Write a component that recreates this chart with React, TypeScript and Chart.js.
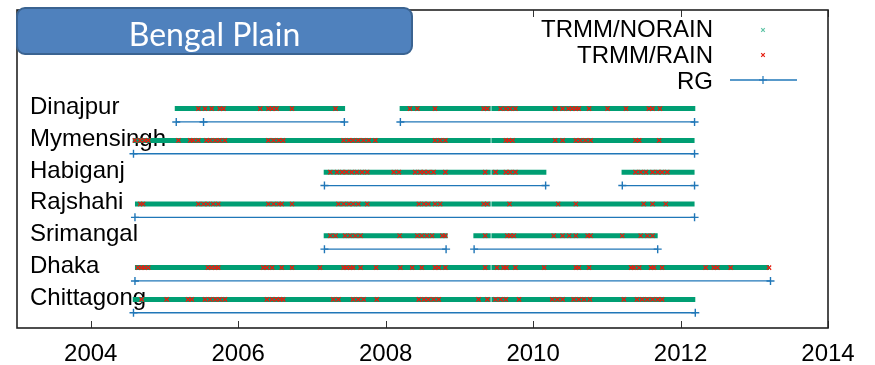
import React, { useEffect, useRef } from "react";
import { Chart, registerables } from "chart.js";

Chart.register(...registerables);

// ---------------- data ----------------
const TITLE = "Bengal Plain";
const STATIONS = ["Dinajpur", "Mymensingh", "Habiganj", "Rajshahi", "Srimangal", "Dhaka", "Chittagong"];
const STATION_ROWS = [3, 4, 5, 6, 7, 8, 9];

const TICK_YEARS = [2004, 2006, 2008, 2010, 2012, 2014];
const TICK_LABELS = ["2004", "2006", "2008", "2010", "2012", "2014"];
const X_MIN = 2003;
const X_MAX = 2014;

const LEGEND_LABELS = ["TRMM/NORAIN", "TRMM/RAIN", "RG"];

// TRMM coverage segments [start, end] (decimal years)
const DINAJPUR_TRMM = [[2005.14, 2007.45], [2008.19, 2009.425], [2009.435, 2012.2]];
const MYMENSINGH_TRMM = [[2004.57, 2009.425], [2009.435, 2012.19]];
const HABIGANJ_TRMM = [[2007.16, 2009.425], [2009.435, 2010.18], [2011.2, 2012.19]];
const RAJSHAHI_TRMM = [[2004.6, 2009.425], [2009.435, 2012.19]];
const SRIMANGAL_TRMM = [[2007.16, 2008.84], [2009.19, 2009.425], [2009.435, 2011.69]];
const DHAKA_TRMM = [[2004.6, 2009.425], [2009.435, 2013.2]];
const CHITTAGONG_TRMM = [[2004.57, 2009.425], [2009.435, 2012.2]];

// TRMM rain days (decimal years)
const DINAJPUR_RAIN = [2005.46, 2005.55, 2005.64, 2005.75, 2005.8, 2006.3, 2006.41, 2006.46, 2006.52, 2006.73, 2007.32,
  2008.33, 2008.43, 2008.67, 2009.33, 2009.38, 2009.56, 2009.63, 2009.69, 2009.76, 2010.3, 2010.4, 2010.48, 2010.53,
  2010.58, 2010.62, 2010.76, 2011.01, 2011.26, 2011.57, 2011.62, 2011.72];
const MYMENSINGH_RAIN = [2004.6, 2004.67, 2004.73, 2004.78, 2005.19, 2005.35, 2005.39, 2005.46, 2005.57, 2005.62, 2005.69,
  2005.75, 2005.82, 2006.41, 2006.48, 2006.55, 2006.61, 2007.43, 2007.5, 2007.56, 2007.63, 2007.7, 2007.77, 2007.86,
  2008.67, 2008.74, 2008.81, 2009.63, 2009.67, 2009.72, 2010.3, 2010.4, 2010.58, 2010.64, 2010.71, 2010.78, 2011.39,
  2011.44, 2011.71];
const HABIGANJ_RAIN = [2007.25, 2007.34, 2007.41, 2007.47, 2007.54, 2007.61, 2007.68, 2007.75, 2008.11, 2008.18, 2008.4,
  2008.47, 2008.52, 2008.58, 2008.65, 2008.81, 2009.35, 2009.49, 2009.63, 2009.69, 2009.76, 2011.39, 2011.46, 2011.53,
  2011.62, 2011.69, 2011.75, 2011.82];
const RAJSHAHI_RAIN = [2004.67, 2004.71, 2005.46, 2005.53, 2005.59, 2005.66, 2005.73, 2006.41, 2006.48, 2006.55, 2006.59,
  2006.73, 2007.36, 2007.43, 2007.5, 2007.56, 2007.63, 2007.75, 2008.45, 2008.52, 2008.58, 2008.67, 2008.74, 2009.33,
  2009.38, 2009.68, 2010.34, 2010.58, 2011.5, 2011.62, 2011.8];
const SRIMANGAL_RAIN = [2007.25, 2007.32, 2007.45, 2007.52, 2007.59, 2007.66, 2008.19, 2008.43, 2008.49, 2008.56, 2008.63,
  2008.77, 2008.81, 2009.35, 2009.65, 2009.69, 2009.74, 2010.28, 2010.4, 2010.49, 2010.58, 2010.74, 2010.78, 2011.21,
  2011.46, 2011.55, 2011.62];
const DHAKA_RAIN = [2004.64, 2004.69, 2004.73, 2004.78, 2005.59, 2005.64, 2005.69, 2005.73, 2006.34, 2006.39, 2006.46,
  2006.59, 2006.73, 2007.11, 2007.43, 2007.47, 2007.52, 2007.56, 2007.66, 2007.87, 2008.2, 2008.36, 2008.49, 2008.67,
  2008.72, 2008.81, 2009.35, 2009.51, 2009.6, 2009.64, 2009.76, 2010.15, 2010.58, 2010.62, 2010.76, 2011.33, 2011.37,
  2011.44, 2011.6, 2011.64, 2011.75, 2012.34, 2012.45, 2012.5, 2012.68, 2013.2];
const CHITTAGONG_RAIN = [2004.69, 2005.03, 2005.32, 2005.37, 2005.55, 2005.62, 2005.69, 2005.75, 2005.82, 2006.39, 2006.46,
  2006.52, 2006.57, 2006.61, 2007.29, 2007.36, 2007.56, 2007.63, 2007.7, 2007.88, 2008.45, 2008.52, 2008.58, 2008.65,
  2008.72, 2009.26, 2009.38, 2009.49, 2009.56, 2009.63, 2009.81, 2010.26, 2010.33, 2010.4, 2010.55, 2010.62, 2010.69,
  2010.77, 2011.23, 2011.41, 2011.48, 2011.55, 2011.62, 2011.69, 2011.75];

// Rain-gauge records: each segment lists its marker dates (decimal years)
const DINAJPUR_RG = [[2005.16, 2005.53, 2007.44], [2008.2, 2012.19]];
const MYMENSINGH_RG = [[2004.58, 2012.19]];
const HABIGANJ_RG = [[2007.17, 2010.17], [2011.21, 2012.19]];
const RAJSHAHI_RG = [[2004.6, 2012.19]];
const SRIMANGAL_RG = [[2007.17, 2008.82], [2009.2, 2011.69]];
const DHAKA_RG = [[2004.6, 2013.22]];
const CHITTAGONG_RG = [[2004.58, 2012.2]];

const TRMM_BY_STATION = [DINAJPUR_TRMM, MYMENSINGH_TRMM, HABIGANJ_TRMM, RAJSHAHI_TRMM, SRIMANGAL_TRMM, DHAKA_TRMM, CHITTAGONG_TRMM];
const RAIN_BY_STATION = [DINAJPUR_RAIN, MYMENSINGH_RAIN, HABIGANJ_RAIN, RAJSHAHI_RAIN, SRIMANGAL_RAIN, DHAKA_RAIN, CHITTAGONG_RAIN];
const RG_BY_STATION = [DINAJPUR_RG, MYMENSINGH_RG, HABIGANJ_RG, RAJSHAHI_RG, SRIMANGAL_RG, DHAKA_RG, CHITTAGONG_RG];

// ---------------- styles ----------------
const GREEN = "#009e73";
const RED = "#e51e10";
const BLUE = "#2077b8";
const FONT = "'Liberation Sans', Arial, Helvetica, sans-serif";
const TRMM_OFFSET = 0.1;
const RG_OFFSET = 0.52;

function buildDatasets() {
  const ds: any[] = [];
  STATIONS.forEach((name, i) => {
    const row = STATION_ROWS[i];
    const trmm: any[] = [];
    TRMM_BY_STATION[i].forEach(([a, b]) => {
      trmm.push({ x: a, y: row + TRMM_OFFSET }, { x: b, y: row + TRMM_OFFSET }, { x: b, y: null });
    });
    ds.push({
      label: name + " TRMM/NORAIN",
      data: trmm,
      showLine: true,
      borderColor: GREEN,
      backgroundColor: GREEN,
      borderWidth: 5,
      borderCapStyle: "butt",
      pointRadius: 0,
      spanGaps: false,
      order: 3,
    });
    ds.push({
      label: name + " TRMM/RAIN",
      data: RAIN_BY_STATION[i].map((x) => ({ x, y: row + TRMM_OFFSET })),
      showLine: false,
      pointStyle: "crossRot",
      pointRadius: 3,
      borderColor: RED,
      backgroundColor: RED,
      pointBorderWidth: 1.3,
      order: 1,
    });
    const rg: any[] = [];
    RG_BY_STATION[i].forEach((seg) => {
      seg.forEach((x) => rg.push({ x, y: row + RG_OFFSET }));
      rg.push({ x: seg[seg.length - 1], y: null });
    });
    ds.push({
      label: name + " RG",
      data: rg,
      showLine: true,
      borderColor: BLUE,
      backgroundColor: BLUE,
      borderWidth: 1.3,
      pointStyle: "cross",
      pointRadius: 4,
      pointBorderWidth: 1.4,
      spanGaps: false,
      order: 2,
    });
  });
  return ds;
}

const framePlugin = {
  id: "framePlugin",
  beforeDatasetsDraw(chart: any) {
    const { ctx, chartArea, scales } = chart;
    const y = scales.y;
    ctx.save();
    ctx.fillStyle = "#000";
    ctx.font = `24px ${FONT}`;
    ctx.textAlign = "left";
    ctx.textBaseline = "alphabetic";
    STATIONS.forEach((name, i) => {
      ctx.fillText(name, chartArea.left + 13, y.getPixelForValue(STATION_ROWS[i]) + 8.6);
    });
    ctx.restore();
  },
  afterDraw(chart: any) {
    const { ctx, chartArea, scales } = chart;
    const x = scales.x;
    ctx.save();
    // ticks (inward, bottom and top) and tick labels
    ctx.strokeStyle = "#333";
    ctx.lineWidth = 1;
    ctx.fillStyle = "#000";
    ctx.font = `24px ${FONT}`;
    ctx.textAlign = "center";
    ctx.textBaseline = "alphabetic";
    TICK_YEARS.forEach((v, k) => {
      const px = Math.round(x.getPixelForValue(v)) + 0.5;
      ctx.beginPath();
      ctx.moveTo(px, chartArea.bottom);
      ctx.lineTo(px, chartArea.bottom - 7);
      ctx.moveTo(px, chartArea.top);
      ctx.lineTo(px, chartArea.top + 7);
      ctx.stroke();
      ctx.fillText(TICK_LABELS[k], x.getPixelForValue(v), chartArea.bottom + 33);
    });
    // frame
    ctx.strokeStyle = "#222";
    ctx.lineWidth = 1.6;
    ctx.strokeRect(chartArea.left, chartArea.top, chartArea.right - chartArea.left, chartArea.bottom - chartArea.top);

    // legend
    const textRight = chartArea.right - 115;
    const symX = chartArea.right - 65;
    const rows = [chartArea.top + 18.5, chartArea.top + 44, chartArea.top + 70];
    ctx.font = `24px ${FONT}`;
    ctx.fillStyle = "#000";
    ctx.textAlign = "right";
    ctx.textBaseline = "alphabetic";
    LEGEND_LABELS.forEach((lab, i) => ctx.fillText(lab, textRight, rows[i] + 8.6));
    const cross = (cx: number, cy: number, r: number, color: string, rot: boolean) => {
      ctx.strokeStyle = color;
      ctx.lineWidth = 1.2;
      ctx.beginPath();
      if (rot) {
        ctx.moveTo(cx - r, cy - r); ctx.lineTo(cx + r, cy + r);
        ctx.moveTo(cx - r, cy + r); ctx.lineTo(cx + r, cy - r);
      } else {
        ctx.moveTo(cx - r, cy); ctx.lineTo(cx + r, cy);
        ctx.moveTo(cx, cy - r); ctx.lineTo(cx, cy + r);
      }
      ctx.stroke();
    };
    cross(symX, rows[0] + 1.5, 1.8, "#5fc4a6", true);
    cross(symX, rows[1] + 1, 1.8, RED, true);
    ctx.strokeStyle = BLUE;
    ctx.lineWidth = 1.4;
    ctx.beginPath();
    ctx.moveTo(symX - 33, rows[2]);
    ctx.lineTo(symX + 34, rows[2]);
    ctx.stroke();
    cross(symX, rows[2], 4, BLUE, false);
    ctx.restore();
  },
};

export default function App() {
  const ref = useRef<HTMLCanvasElement | null>(null);
  useEffect(() => {
    if (!ref.current) return;
    const chart = new Chart(ref.current, {
      type: "scatter",
      data: { datasets: buildDatasets() },
      options: {
        animation: false,
        responsive: false,
        devicePixelRatio: 1,
        layout: { padding: { left: 17, right: 47, top: 10, bottom: 37 } },
        plugins: { legend: { display: false }, tooltip: { enabled: false } },
        scales: {
          x: { type: "linear", min: X_MIN, max: X_MAX, display: false },
          y: { type: "linear", min: 0, max: 10, reverse: true, display: false },
        },
      } as any,
      plugins: [framePlugin],
    });
    return () => chart.destroy();
  }, []);

  return (
    <div style={{ position: "fixed", left: 0, top: 0, width: 875, height: 365, background: "#fff" }}>
      <canvas ref={ref} width={875} height={365} style={{ position: "absolute", left: 0, top: 0 }} />
      <div
        style={{
          position: "absolute",
          left: 16,
          top: 7,
          width: 397,
          height: 48,
          boxSizing: "border-box",
          background: "#4f81bd",
          border: "2.5px solid #3a6391",
          borderRadius: 9,
          color: "#fff",
          fontFamily: "Lato, 'Open Sans', sans-serif",
          fontSize: 32,
          display: "flex",
          alignItems: "center",
          justifyContent: "center",
          paddingTop: 4,
        }}
      >
        {TITLE}
      </div>
    </div>
  );
}
